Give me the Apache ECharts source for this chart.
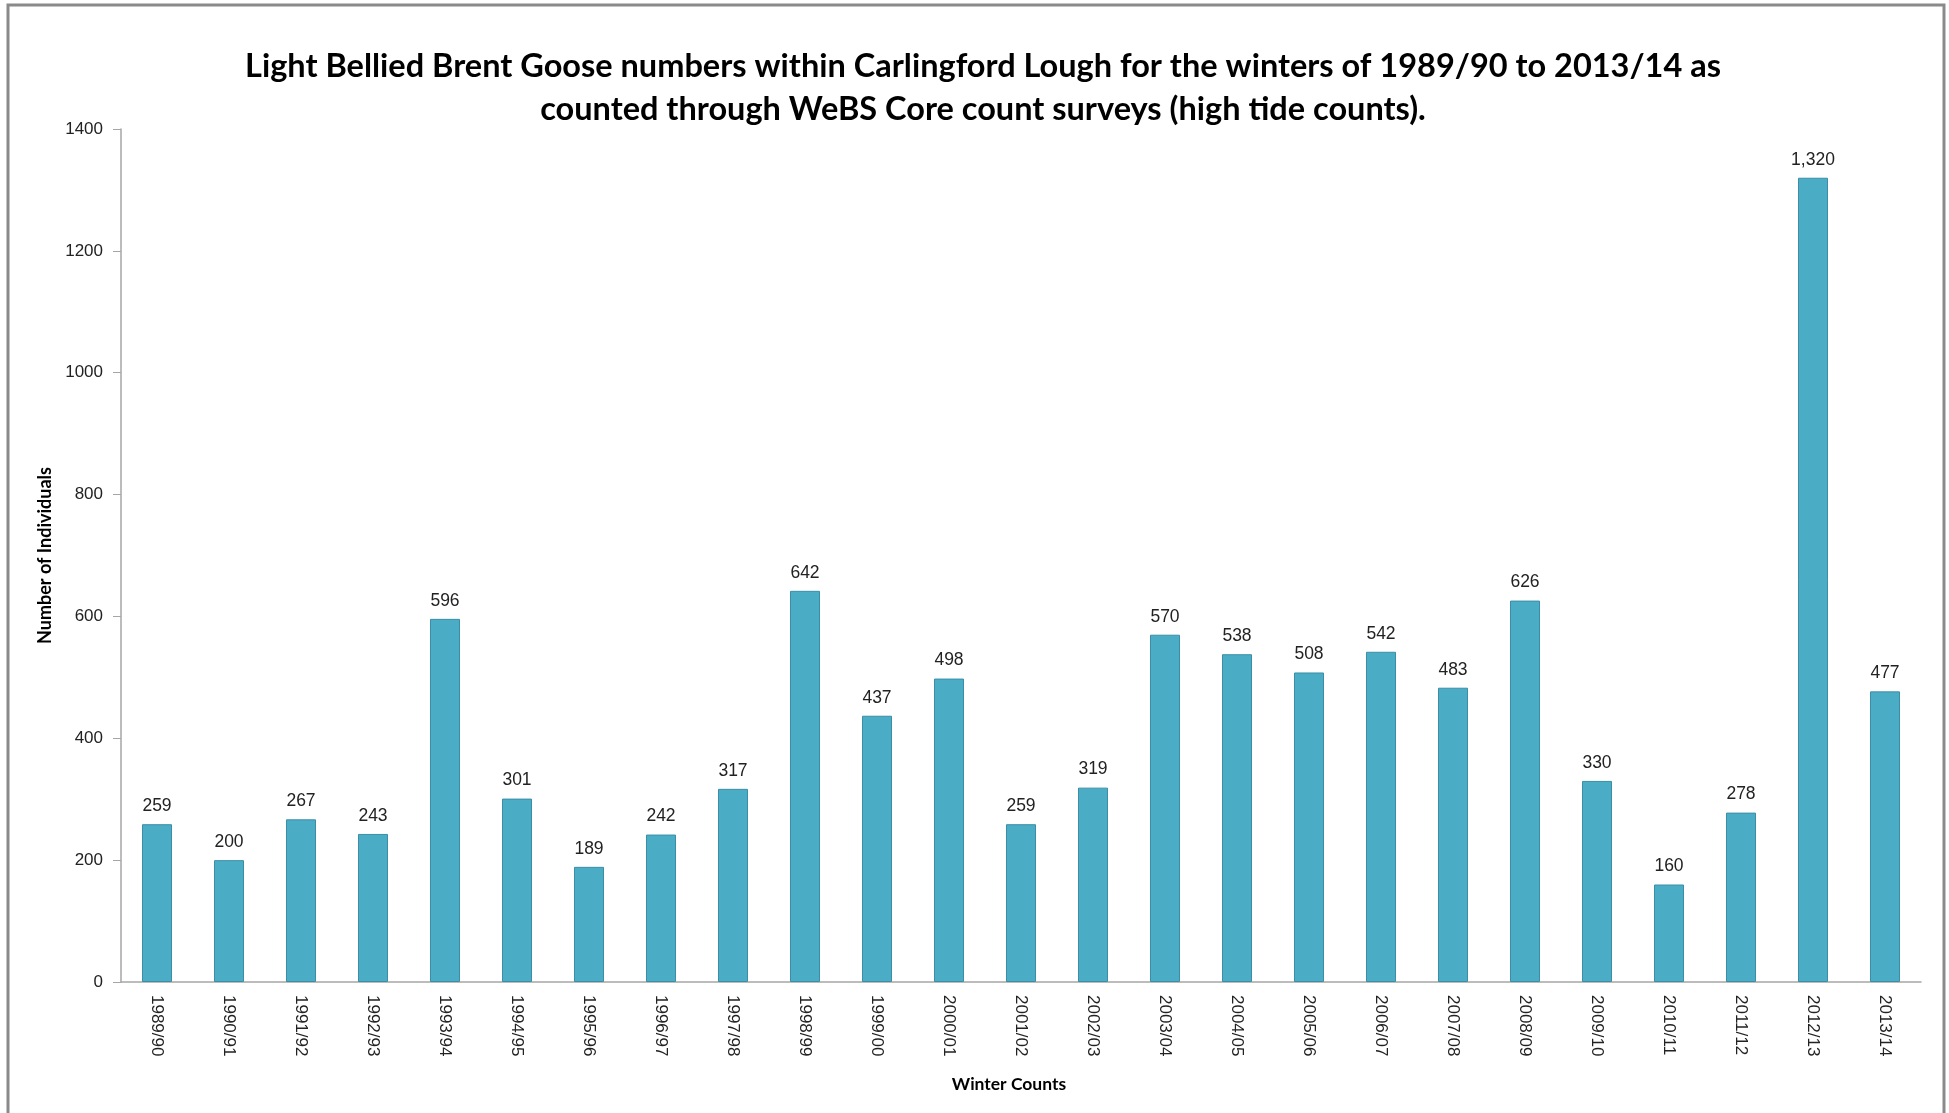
<!DOCTYPE html>
<html>
<head>
<meta charset="utf-8">
<script src="https://cdn.jsdelivr.net/npm/echarts@6/dist/echarts.min.js"></script>
<style>
html,body{margin:0;padding:0;background:#fff;}
#chart{width:1949px;height:1113px;}
</style>
</head>
<body>
<div id="chart"></div>
<script>
const categories = ["1989/90","1990/91","1991/92","1992/93","1993/94","1994/95","1995/96","1996/97","1997/98","1998/99","1999/00","2000/01","2001/02","2002/03","2003/04","2004/05","2005/06","2006/07","2007/08","2008/09","2009/10","2010/11","2011/12","2012/13","2013/14"];
const counts = [259,200,267,243,596,301,189,242,317,642,437,498,259,319,570,538,508,542,483,626,330,160,278,1320,477];
const yTicks = [0,200,400,600,800,1000,1200,1400];

const chart = echarts.init(document.getElementById('chart'));
chart.setOption({
  animation:false,
  backgroundColor:'#fff',
  title:{
    text:'Light Bellied Brent Goose numbers within Carlingford Lough for the winters of 1989/90 to 2013/14 as\ncounted through WeBS Core count surveys (high tide counts).',
    left:978, textAlign:'center', top:40,
    textStyle:{fontFamily:'Lato',fontWeight:'bold',fontSize:32.5,color:'#000',lineHeight:43}
  },
  graphic:[{type:'rect',shape:{x:8,y:5,width:1936,height:1120},style:{fill:'none',stroke:'#8a8a8a',lineWidth:3},silent:true}],
  grid:{left:121,right:28,top:129,bottom:131,containLabel:false},
  xAxis:{
    type:'category', data:categories,
    name:'Winter Counts', nameLocation:'middle', nameGap:93,
    nameTextStyle:{fontFamily:'Lato',fontWeight:'bold',fontSize:17.5,color:'#000',padding:[0,24,0,0]},
    axisLine:{lineStyle:{color:'#a6a6a6',width:1.5}},
    axisTick:{show:false},
    axisLabel:{rotate:-90,fontFamily:'Liberation Sans',fontSize:17,color:'#222',margin:13},
  },
  yAxis:{
    type:'value', min:0, max:1400, interval:200,
    name:'Number of Individuals', nameLocation:'middle', nameGap:65,
    nameTextStyle:{fontFamily:'Lato',fontWeight:'bold',fontSize:18,color:'#000'},
    axisLine:{show:true,lineStyle:{color:'#a6a6a6',width:1.5}},
    axisTick:{show:true,length:8,lineStyle:{color:'#a6a6a6'}},
    splitLine:{show:false},
    axisLabel:{fontFamily:'Liberation Sans',fontSize:17,color:'#222',margin:18,
      formatter:v=>yTicks.includes(v)?String(v):''}
  },
  series:[{
    type:'bar', data:counts, barWidth:30,
    itemStyle:{color:'#4bacc6',borderColor:'#3a8ea6',borderWidth:1},
    label:{show:true,position:'top',distance:9,fontFamily:'Liberation Sans',fontSize:17.5,color:'#222',
      formatter:p=>p.value.toLocaleString('en-US')}
  }]
});
</script>
</body>
</html>
